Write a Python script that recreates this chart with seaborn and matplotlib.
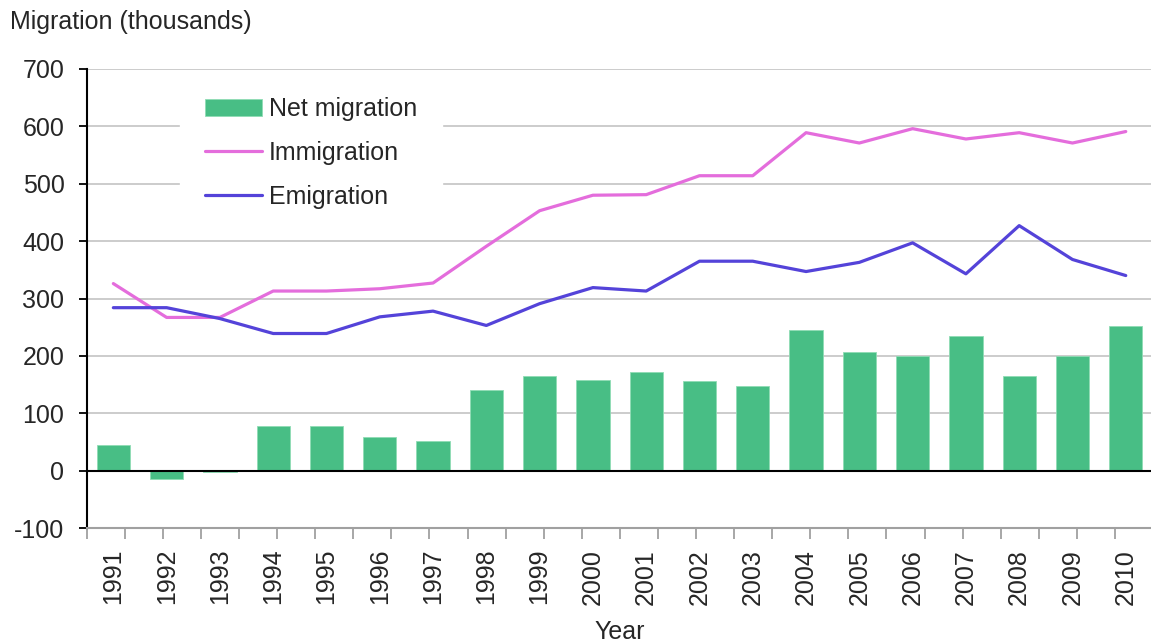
import numpy as np
import pandas as pd
import matplotlib
matplotlib.use("Agg")
import matplotlib.pyplot as plt
from matplotlib.ticker import FixedLocator
import seaborn as sns

# =========================
# Data (thousands)
# =========================
years = [str(y) for y in range(1991, 2011)]
net_migration = [44, -15, -3, 78, 78, 58, 51, 141, 165, 158,
                 172, 156, 148, 245, 207, 200, 235, 165, 200, 252]
immigration = [326, 267, 267, 313, 313, 317, 327, 391, 453, 480,
               481, 514, 514, 589, 571, 596, 578, 589, 571, 591]
emigration = [284, 284, 265, 239, 239, 268, 278, 253, 291, 319,
              313, 365, 365, 347, 363, 397, 343, 427, 368, 340]

bar_color = "#48be85"
imm_color = "#e46ddc"
emi_color = "#5443d9"

df = pd.DataFrame({
    "Year": years,
    "pos": np.arange(len(years)),
    "Net migration": net_migration,
    "Immigration": immigration,
    "Emigration": emigration,
})

# =========================
# Plot
# =========================
sns.set_style("white")
plt.rcParams["font.family"] = ["Liberation Sans", "DejaVu Sans"]
plt.rcParams["axes.unicode_minus"] = False
fs = 18

fig = plt.figure(figsize=(11.51, 6.43), dpi=100)
ax = fig.add_axes([86.7 / 1151, 1 - 528 / 643, 1065.7 / 1151, 459 / 643])

# gridlines
for v in range(100, 701, 100):
    ax.axhline(v, color="#c8c8c8", lw=1.3, zorder=0)

sns.barplot(data=df, x="Year", y="Net migration", color=bar_color,
            width=0.625, saturation=1, edgecolor="#8fdcb5", linewidth=0.6,
            label="Net migration", ax=ax, zorder=2)
sns.lineplot(data=df, x="pos", y="Immigration", color=imm_color, lw=2.3,
             label="Immigration", ax=ax, zorder=3)
sns.lineplot(data=df, x="pos", y="Emigration", color=emi_color, lw=2.3,
             label="Emigration", ax=ax, zorder=3)

ax.axhline(0, color="black", lw=1.5, zorder=4)

ax.set_ylim(-100, 700)
ax.set_xlim(-0.5, len(years) - 0.5)
ax.set_yticks(range(-100, 701, 100))

# spines
for s in ["top", "right"]:
    ax.spines[s].set_visible(False)
ax.spines["left"].set_color("black")
ax.spines["left"].set_linewidth(1.5)
ax.spines["bottom"].set_color("#a0a0a0")
ax.spines["bottom"].set_linewidth(1.5)

ax.tick_params(axis="y", direction="out", length=6, width=1.3, color="black",
               labelsize=fs, pad=10, left=True)
ax.set_xticks(df["pos"])
ax.set_xticklabels(years, rotation=90)
ax.tick_params(axis="x", which="major", length=0, labelsize=fs, pad=15)
ax.xaxis.set_minor_locator(FixedLocator(-0.5 + 0.7147 * np.arange(28)))
ax.tick_params(axis="x", which="minor", direction="out", length=8, width=1.3,
               color="#a0a0a0", bottom=True)

ax.set_xlabel("Year", fontsize=fs)
ax.xaxis.set_label_coords(0.5, -0.2)
ax.set_ylabel("Migration (thousands)", fontsize=fs, rotation=0,
              ha="left", va="center")
ax.yaxis.set_label_coords(-0.072, 1.102)

# legend in order: bars, immigration, emigration
handles, labels = ax.get_legend_handles_labels()
order = [labels.index(n) for n in ["Net migration", "Immigration", "Emigration"]]
leg = ax.legend([handles[i] for i in order], [labels[i] for i in order],
                loc="upper left", bbox_to_anchor=(0.088, 0.993),
                borderaxespad=0, fontsize=fs, frameon=True, fancybox=False,
                borderpad=1.0, labelspacing=0.79, handlelength=2.25,
                handletextpad=0.28)
leg.get_frame().set_facecolor("white")
leg.get_frame().set_edgecolor("white")
leg.get_frame().set_alpha(1)
leg.set_zorder(5)

plt.savefig("out.png", dpi=100)
